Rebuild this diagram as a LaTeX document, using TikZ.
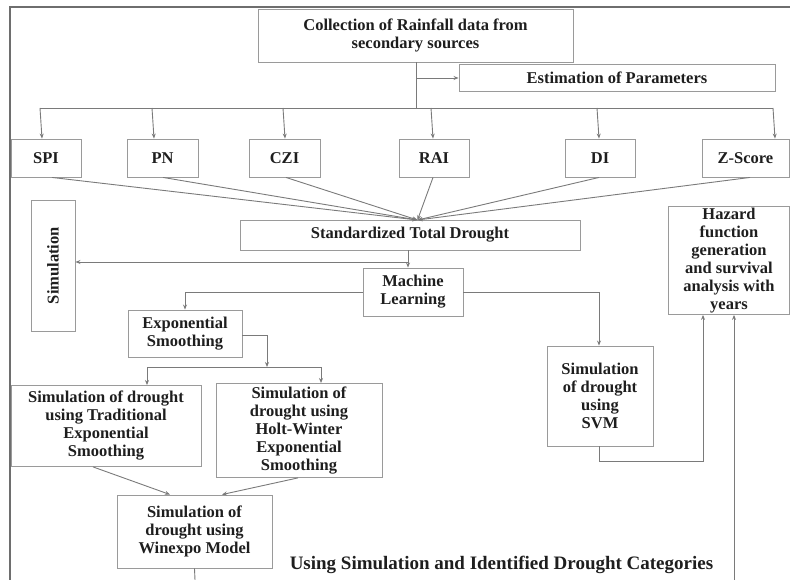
\documentclass[tikz,border=0pt]{standalone}
\usepackage{fontspec}
\setmainfont{Liberation Serif}
\usetikzlibrary{arrows.meta,calc}
\definecolor{boxc}{HTML}{9A9A9A}
\definecolor{linec}{HTML}{7A7A7A}
\definecolor{framec}{HTML}{6E6E6E}
\definecolor{txtc}{HTML}{1E1E1E}
\tikzset{
  bx/.style={draw=boxc, line width=0.9pt, inner sep=0pt, align=center, text=txtc,
    font=\fontsize{16.5}{18}\selectfont\bfseries},
  conn/.style={draw=linec, line width=0.9pt},
  arr/.style={conn, -{Stealth[length=5pt,width=4pt]}},
}
\begin{document}
\begin{tikzpicture}[x=1pt,y=-1pt]
\useasboundingbox (0,0) rectangle (790,580);
% frame
\draw[framec, line width=2pt] (10,580) -- (10,7) -- (790,7);
% nodes
\node[bx, minimum width=315pt, minimum height=53pt] (coll) at (415.5,35.5) {Collection of Rainfall data from\\secondary sources};
\node[bx, minimum width=316pt, minimum height=27pt] (est) at (617,77.5) {Estimation of Parameters};
\node[bx, minimum width=70pt, minimum height=38pt] (spi) at (46,158) {SPI};
\node[bx, minimum width=71pt, minimum height=38pt] (pn) at (162.5,158) {PN};
\node[bx, minimum width=71pt, minimum height=38pt] (czi) at (284.5,158) {CZI};
\node[bx, minimum width=70pt, minimum height=38pt] (rai) at (434,158) {RAI};
\node[bx, minimum width=70pt, minimum height=38pt] (di) at (600,158) {DI};
\node[bx, minimum width=87pt, minimum height=38pt] (zs) at (745.5,158) {Z-Score};
\node[bx, minimum width=340pt, minimum height=30pt] (std) at (410,235) {Standardized Total Drought};
\node[bx, minimum width=131pt, minimum height=44pt, rotate=90] (sim) at (53,265.5) {Simulation};
\node[bx, minimum width=100pt, minimum height=48pt] (ml) at (413,292) {Machine\\Learning};
\node[bx, minimum width=114pt, minimum height=47pt] (es) at (185,333.5) {Exponential\\Smoothing};
\node[bx, minimum width=190pt, minimum height=81pt, anchor=north] (trad) at (106,385) {Simulation of drought\\using Traditional\\Exponential\\Smoothing};
\node[bx, minimum width=166pt, minimum height=94pt, anchor=north] (hw) at (299,383) {Simulation of\\drought using\\Holt-Winter\\Exponential\\Smoothing};
\node[bx, minimum width=155pt, minimum height=73pt] (win) at (194.5,531.5) {Simulation of\\drought using\\Winexpo Model};
\node[bx, minimum width=106pt, minimum height=100pt] (svm) at (600,396) {Simulation\\of drought\\using\\SVM};
\node[bx, minimum width=121pt, minimum height=108pt, anchor=north] (haz) at (729,206) {Hazard\\function\\generation\\and survival\\analysis with\\years};
\node[text=txtc, font=\fontsize{19}{20}\selectfont\bfseries] (cap) at (501.5,565) {Using Simulation and Identified Drought Categories};
% coordinates
\coordinate (top) at (416,108);
\coordinate (conv) at (417.5,220);
% from collection
\draw[conn] (coll.south -| top) -- (top);
\draw[arr] (416,78) -- (est.west |- 0,78);
\draw[conn] (40,108) -- (773,108);
\draw[arr] (40,108) -- (spi.north -| 42,0);
\draw[arr] (152,108) -- (pn.north -| 154,0);
\draw[arr] (283,108) -- (czi.north -| 285,0);
\draw[arr] (431,108) -- (rai.north -| 433,0);
\draw[arr] (597,108) -- (di.north -| 599,0);
\draw[arr] (773,108) -- (zs.north -| 775,0);
% to standardized
\draw[arr] (spi.south -| 52,0) -- (conv);
\draw[arr] (pn.south -| 163,0) -- (conv);
\draw[arr] (czi.south -| 286,0) -- (conv);
\draw[arr] (rai.south -| 433,0) -- (conv);
\draw[arr] (di.south -| 599,0) -- (conv);
\draw[arr] (zs.south -| 750,0) -- (conv);
% std -> simulation, ML
\coordinate (sb) at (408,262);
\draw[conn] (std.south -| sb) -- (sb);
\draw[arr] (sb) -- (sim.south |- sb);
\draw[arr] (sb) -- (ml.north -| sb);
% ML branches
\draw[arr] (ml.west) -- (es.north |- ml.west) -- (es.north);
\draw[arr] (ml.east) -- (599,292) -- (svm.north -| 599,0);
% ES branches
\coordinate (bar) at (267,367);
\draw[arr] (es.east |- 0,335) -- (267,335) -- (bar);
\draw[conn] (147,367) -- (321,367);
\draw[arr] (147,367) -- (trad.north -| 147,0);
\draw[arr] (321,367) -- (hw.north -| 321,0);
% to winexpo
\draw[arr] (trad.south -| 93,0) -- (win.north -| 170,0);
\draw[arr] (hw.south -| 298,0) -- (win.north -| 222,0);
\draw[conn] (win.south) -- (195,580);
% SVM to hazard
\draw[arr] (svm.south -| 599,0) -- (599,461) -- (703,461) -- (haz.south -| 703,0);
\draw[arr] (734,580) -- (haz.south -| 734,0);
\end{tikzpicture}
\end{document}
